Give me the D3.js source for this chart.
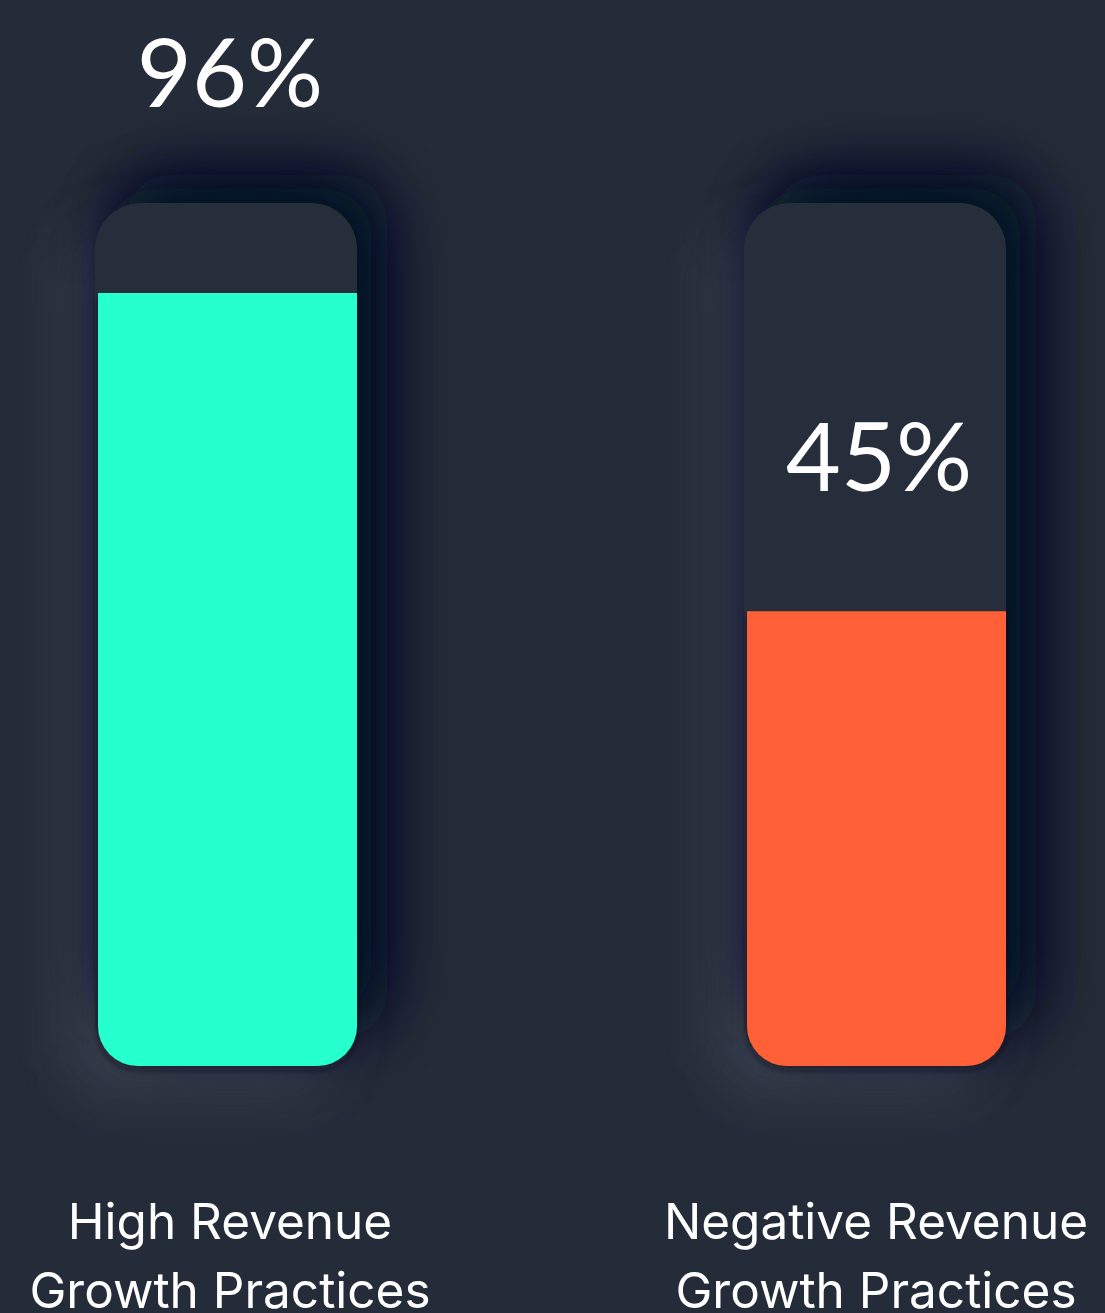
<!DOCTYPE html>
<html>
<head>
<meta charset="utf-8">
<script src="https://cdn.jsdelivr.net/npm/d3@7"></script>
<style>
  html, body { margin: 0; padding: 0; background: #252c39; }
  svg { display: block; }
</style>
</head>
<body>
<svg id="chart" width="1105" height="1313"></svg>
<script>
// data
var categories = ['High Revenue Growth Practices', 'Negative Revenue Growth Practices'];
var labelLines = [['High Revenue', 'Growth Practices'], ['Negative Revenue', 'Growth Practices']];
var values = [96, 45];
var colors = ['#27ffce', '#ff6139'];

var W = 1105, H = 1313;
var trackTop = 203, trackBottom = 1066, trackW = 262;

var svg = d3.select('#chart');

// soft blurs for the neumorphic look
var defs = svg.append('defs');
defs.append('filter').attr('id', 'blurDark')
  .attr('filterUnits', 'userSpaceOnUse')
  .attr('x', 0).attr('y', 0).attr('width', W).attr('height', H)
  .append('feGaussianBlur').attr('stdDeviation', 36);
defs.append('filter').attr('id', 'blurLight')
  .attr('filterUnits', 'userSpaceOnUse')
  .attr('x', 0).attr('y', 0).attr('width', W).attr('height', H)
  .append('feGaussianBlur').attr('stdDeviation', 28);

var f2 = defs.append('filter').attr('id', 'barShadow')
  .attr('x', '-10%').attr('y', '-10%').attr('width', '120%').attr('height', '120%');
f2.append('feDropShadow').attr('dx', 0).attr('dy', 4).attr('stdDeviation', 3)
  .attr('flood-color', '#0d1424').attr('flood-opacity', 0.6);

var x = d3.scalePoint().domain(categories).range([226, 875]);
var y = d3.scaleLinear().domain([0, 100]).range([892, 268]);

var g = svg.append('g');

// light glow, bottom-left
g.selectAll('rect.glow')
  .data(categories)
  .join('rect')
  .attr('class', 'glow')
  .attr('x', function(d){ return x(d) - trackW/2 - 24; })
  .attr('y', trackTop + 24)
  .attr('width', trackW)
  .attr('height', trackBottom - trackTop)
  .attr('rx', 46)
  .attr('fill', '#3b4352')
  .attr('filter', 'url(#blurLight)');

// dark shadow, top-right (two layers: wide and tight)
g.selectAll('rect.shade')
  .data(categories)
  .join('rect')
  .attr('class', 'shade')
  .attr('x', function(d){ return x(d) - trackW/2 + 30; })
  .attr('y', trackTop - 28)
  .attr('width', trackW)
  .attr('height', trackBottom - trackTop)
  .attr('rx', 46)
  .attr('fill', '#000820')
  .attr('filter', 'url(#blurDark)');

g.selectAll('rect.shade2')
  .data(categories)
  .join('rect')
  .attr('class', 'shade2')
  .attr('x', function(d){ return x(d) - trackW/2 + 14; })
  .attr('y', trackTop - 14)
  .attr('width', trackW)
  .attr('height', trackBottom - trackTop - 40)
  .attr('rx', 46)
  .attr('fill', '#000a26')
  .attr('opacity', 0.8)
  .attr('filter', 'url(#blurLight)');

// tracks
g.selectAll('rect.track')
  .data(categories)
  .join('rect')
  .attr('class', 'track')
  .attr('x', function(d){ return x(d) - trackW/2; })
  .attr('y', trackTop)
  .attr('width', trackW)
  .attr('height', trackBottom - trackTop)
  .attr('rx', 46)
  .attr('fill', '#272e3b');

// bars: square top, rounded bottom
function barPath(x0, x1, top, bottom, r){
  return 'M' + x0 + ',' + top +
    'H' + x1 +
    'V' + (bottom - r) +
    'A' + r + ',' + r + ' 0 0 1 ' + (x1 - r) + ',' + bottom +
    'H' + (x0 + r) +
    'A' + r + ',' + r + ' 0 0 1 ' + x0 + ',' + (bottom - r) +
    'Z';
}

g.selectAll('path.bar')
  .data(values)
  .join('path')
  .attr('class', 'bar')
  .attr('d', function(d, i){
    var cx = x(categories[i]);
    return barPath(cx - trackW/2 + 3, cx + trackW/2, y(d), trackBottom, 40);
  })
  .attr('fill', function(d, i){ return colors[i]; })
  .attr('filter', 'url(#barShadow)');

// value labels: inside the track if room, otherwise above it
g.selectAll('text.val')
  .data(values)
  .join('text')
  .attr('class', 'val')
  .attr('x', function(d, i){ return x(categories[i]) + 4; })
  .attr('y', function(d){
    var yy = y(d) - 120;
    return (yy - 80 < trackTop) ? trackTop - 96 : yy;
  })
  .attr('text-anchor', 'middle')
  .attr('font-family', 'Lato, sans-serif')
  .attr('font-weight', 400)
  .attr('font-size', 95)
  .attr('fill', '#ffffff')
  .text(function(d){ return d + '%'; });

// category labels
var lab = g.selectAll('text.cat')
  .data(categories)
  .join('text')
  .attr('class', 'cat')
  .attr('y', 1239)
  .attr('text-anchor', 'middle')
  .attr('font-family', 'Inter, sans-serif')
  .attr('font-size', 49.5)
  .attr('fill', '#ffffff');

lab.selectAll('tspan')
  .data(function(d, i){ return labelLines[i]; })
  .join('tspan')
  .attr('x', function(){
    var c = d3.select(this.parentNode).datum();
    return x(c) + (c === categories[0] ? 4 : 1);
  })
  .attr('dy', function(d, i){ return i === 0 ? 0 : 69; })
  .text(function(d){ return d; });
</script>
</body>
</html>
